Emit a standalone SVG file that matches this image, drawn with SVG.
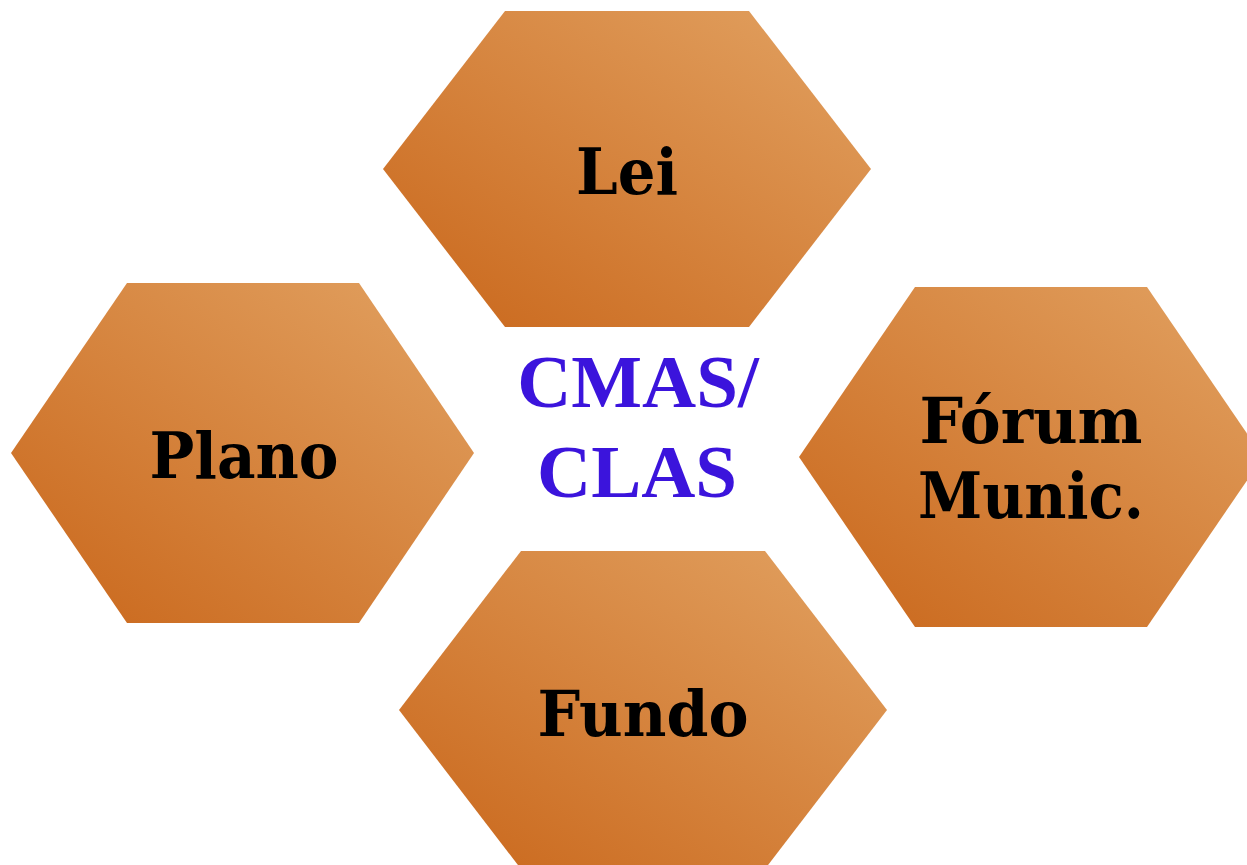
<svg xmlns="http://www.w3.org/2000/svg" width="1247" height="865" viewBox="0 0 1247 865">
<style>
.hex{fill:url(#og);}
.lbl{font-family:"DejaVu Serif","Liberation Serif",serif;font-weight:bold;font-size:64px;fill:#000;text-anchor:middle;}
.ctr{font-family:"Liberation Serif","Times New Roman",serif;font-weight:bold;font-size:75px;fill:#3B14DC;text-anchor:middle;}
</style>
<defs>
<linearGradient id="og" x1="1" y1="0" x2="0" y2="1">
<stop offset="0" stop-color="#E2A262"/>
<stop offset="1" stop-color="#C9661A"/>
</linearGradient>
</defs>
<rect width="1247" height="865" fill="#fff"/>
<g id="connectors"></g>
<g id="lei">
<polygon class="hex" points="505,11 749,11 871,169 749,327 505,327 383,169"/>
<text class="lbl" x="627" y="194" textLength="102" lengthAdjust="spacingAndGlyphs">Lei</text>
</g>
<g id="plano">
<polygon class="hex" points="127,283 359,283 474,453 359,623 127,623 11,453"/>
<text class="lbl" x="244" y="478" textLength="189" lengthAdjust="spacingAndGlyphs">Plano</text>
</g>
<g id="forum">
<polygon class="hex" points="915,287 1147,287 1263,457 1147,627 915,627 799,457"/>
<text class="lbl" x="1031" y="443" textLength="223" lengthAdjust="spacingAndGlyphs">Fórum</text>
<text class="lbl" x="1031" y="518" textLength="226" lengthAdjust="spacingAndGlyphs">Munic.</text>
</g>
<g id="fundo">
<polygon class="hex" points="521,551 765,551 887,710 765,869 521,869 399,710"/>
<text class="lbl" x="643" y="736" textLength="211" lengthAdjust="spacingAndGlyphs">Fundo</text>
</g>
<g id="cmas">
<text class="ctr" x="638" y="407">CMAS/</text>
<text class="ctr" x="637" y="497">CLAS</text>
</g>
</svg>
